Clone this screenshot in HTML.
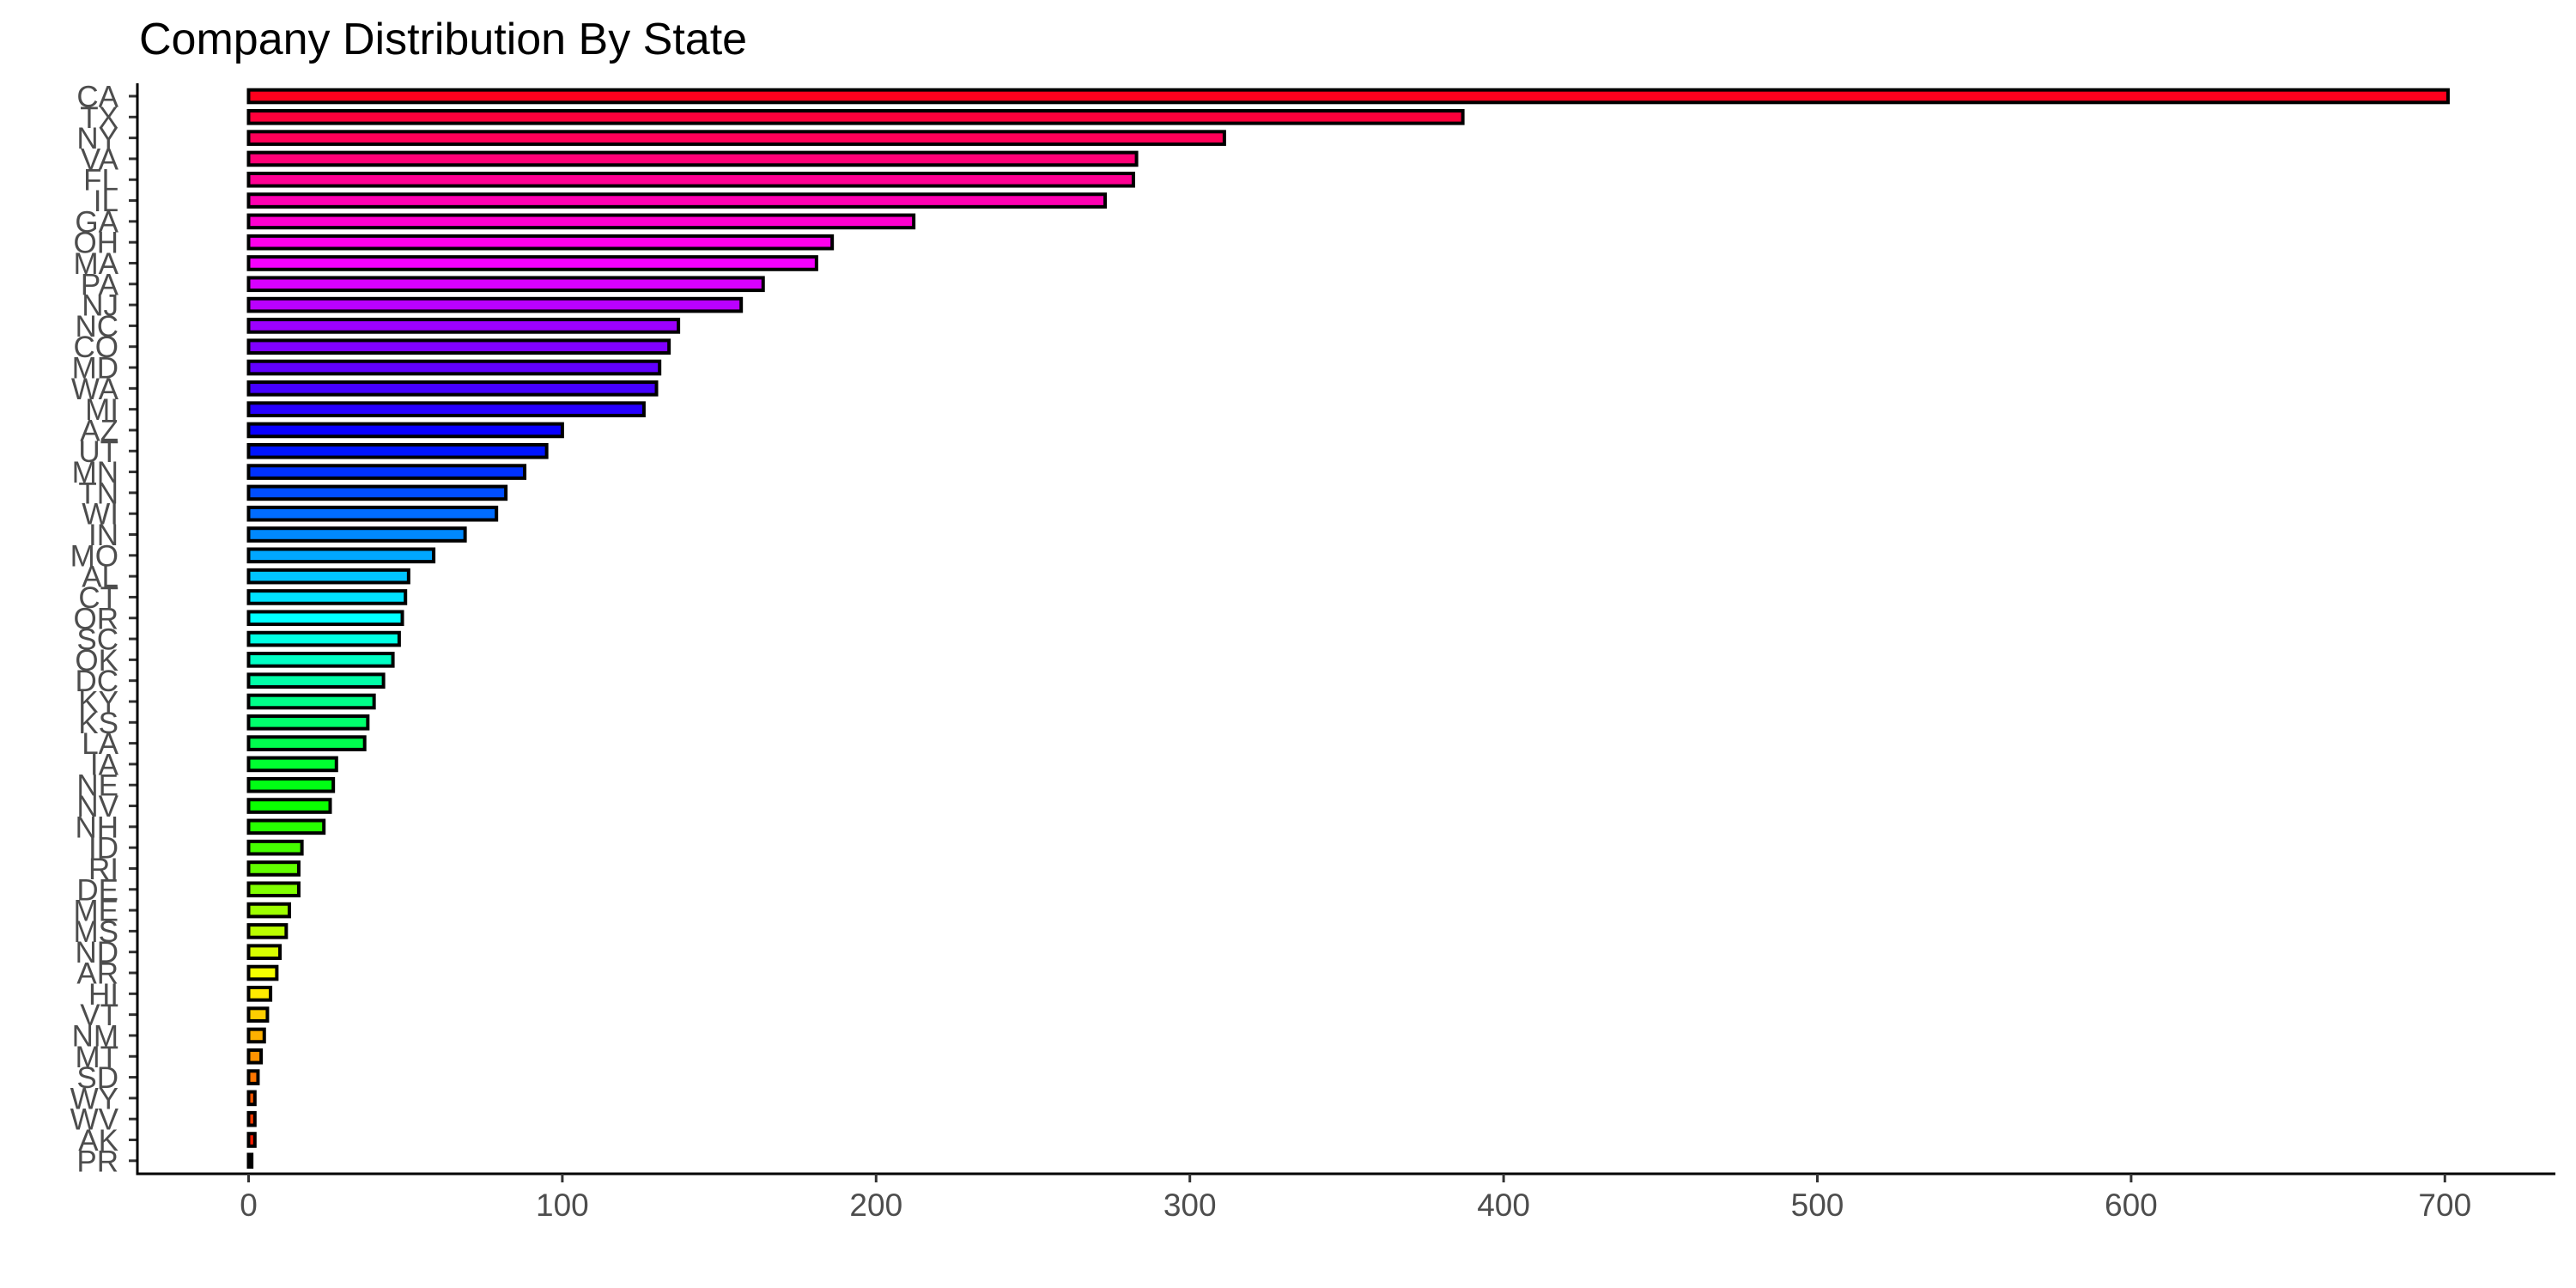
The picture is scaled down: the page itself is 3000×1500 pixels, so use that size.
<!DOCTYPE html>
<html><head><meta charset="utf-8"><style>
html,body{margin:0;padding:0;background:#fff;}
svg{display:block;font-family:"Liberation Sans",Arial,sans-serif;}
</style></head><body>
<svg id="chart" width="3000" height="1500" viewBox="0 0 3000 1500">
<rect width="3000" height="1500" fill="#fff"/>
<text x="162" y="63" font-size="52" fill="#000">Company Distribution By State</text>
<g id="bars"></g>
<g id="yaxis"></g>
<g id="xaxis"></g>
</svg>
<script>
const states = ["CA","TX","NY","VA","FL","IL","GA","OH","MA","PA","NJ","NC","CO","MD","WA","MI","AZ","UT","MN","TN","WI","IN","MO","AL","CT","OR","SC","OK","DC","KY","KS","LA","IA","NE","NV","NH","ID","RI","DE","ME","MS","ND","AR","HI","VT","NM","MT","SD","WY","WV","AK","PR"];
const counts = [701,387,311,283,282,273,212,186,181,164,157,137,134,131,130,126,100,95,88,82,79,69,59,51,50,49,48,46,43,40,38,37,28,27,26,24,17,16,16,13,12,10,9,7,6,5,4,3,2,2,2,1];
const xTicks = [0,100,200,300,400,500,600,700];

const NS = "http://www.w3.org/2000/svg";
const x0 = 289.5, pxPerUnit = 3.654;
const xScale = v => x0 + v * pxPerUnit;
const yTop = 112, step = 24.31;
const yScale = i => yTop + i * step;
const barH = 14.6;
const plotLeft = 160, plotRight = 2976, plotTop = 97, plotBottom = 1367;

function mk(tag, attrs, parent) {
  const e = document.createElementNS(NS, tag);
  for (const k in attrs) e.setAttribute(k, attrs[k]);
  parent.appendChild(e);
  return e;
}
const gb = document.getElementById('bars');
const gy = document.getElementById('yaxis');
const gx = document.getElementById('xaxis');
const n = states.length;
states.forEach((s, i) => {
  const k = n - 1 - i;
  const hue = k * 360 / n;
  const r = mk('rect', {x: xScale(0), y: yScale(i) - barH/2, width: Math.max(0, xScale(counts[i]) - xScale(0)), height: barH,
    fill: `hsl(${hue},100%,50%)`, stroke: '#000', 'stroke-width': 4}, gb);
  
  
  const t = mk('line', {x1: plotLeft - 10, x2: plotLeft, y1: yScale(i), y2: yScale(i), stroke: '#333', 'stroke-width': 3}, gy);
  
  
  const l = mk('text', {x: 138, y: yScale(i) + 12.5, 'font-size': 35, fill: '#4d4d4d', 'text-anchor': 'end'}, gy);
  l.textContent = s;
  
  
});
const yl = mk('line', {x1: plotLeft, x2: plotLeft, y1: plotTop, y2: plotBottom + 1.5, stroke: '#000', 'stroke-width': 3}, gy);


const xl = mk('line', {x1: plotLeft - 1.5, x2: plotRight, y1: plotBottom, y2: plotBottom, stroke: '#000', 'stroke-width': 3}, gx);


xTicks.forEach(v => {
  const t = mk('line', {x1: xScale(v), x2: xScale(v), y1: plotBottom, y2: plotBottom + 10, stroke: '#333', 'stroke-width': 3}, gx);
  
  
  const l = mk('text', {x: xScale(v), y: 1416, 'font-size': 37, fill: '#4d4d4d', 'text-anchor': 'middle'}, gx);
  l.textContent = v;
  
  
});
</script>
</body></html>
